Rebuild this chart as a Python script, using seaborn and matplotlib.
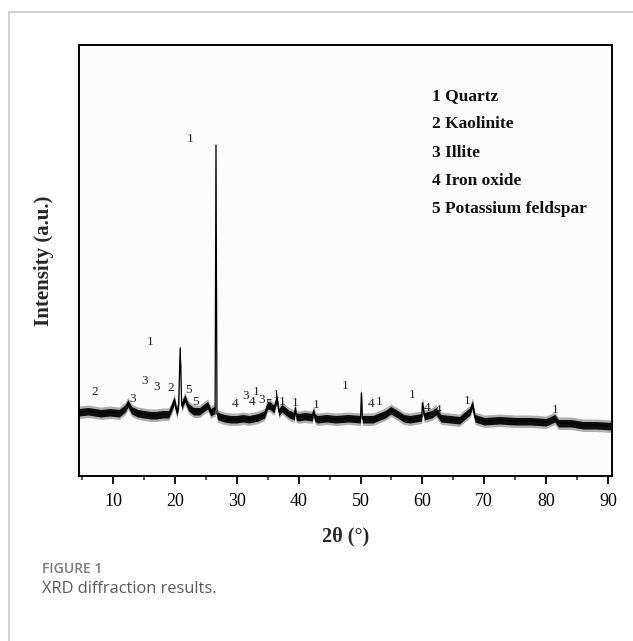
import matplotlib
matplotlib.use("Agg")
import matplotlib.pyplot as plt
from matplotlib.lines import Line2D
from matplotlib.ticker import MultipleLocator
import seaborn as sns
import pandas as pd

# ---- data ----
two_theta = [4.5, 6.0, 8.0, 9.5, 11.0, 12.0, 12.4, 13.0, 14.0, 15.0, 16.0, 17.0, 18.0,
             19.0, 19.5, 19.9, 20.3, 20.6,
             20.85, 21.1, 21.6, 22.2, 23.0, 24.0, 24.8, 25.3, 25.8, 26.3, 26.5,
             26.64, 26.8, 27.0, 28.0, 29.0, 30.0, 31.0, 32.0, 33.5, 34.5, 35.0, 35.5, 36.0,
             36.5, 36.8, 37.3, 38.5, 39.3, 39.45, 39.6, 40.0, 41.0, 42.2, 42.4, 42.6, 43.0,
             44.5, 46.0, 48.0, 50.0, 50.14, 50.3, 52.0, 54.0, 54.9, 56.0, 57.0, 58.0, 59.9,
             60.0, 60.3, 61.5, 62.2, 63.0, 64.5, 66.0, 67.7, 68.1, 68.5, 70.0, 72.5, 75.0,
             77.5, 80.0, 81.4, 82.0, 84.0, 86.0, 88.0, 90.65]
intensity = [64, 65, 63, 64, 63, 68, 73, 66, 63, 62, 61, 61, 62,
             62, 69, 76, 64, 71,
             128, 70, 78, 69, 65, 65, 69, 71, 64, 66, 66,
             331, 62, 60, 58, 57, 57, 58, 57, 59, 62, 71, 70, 67,
             78, 64, 68, 62, 60, 68, 60, 59, 60, 59, 65, 59, 57,
             58, 57, 58, 57, 83, 57, 57, 62, 66, 62, 58, 57, 59,
             73, 60, 62, 65, 58, 57, 56, 65, 72, 58, 55, 56, 55,
             55, 54, 58, 53, 53, 51, 51, 50]

phases = ["1 Quartz", "2 Kaolinite", "3 Illite", "4 Iron oxide", "5 Potassium feldspar"]

peak_label_text = ["2", "3", "3", "3", "1", "2", "5", "5", "1", "4", "3", "4", "1", "3",
                   "5", "1", "1", "1", "1", "1", "4", "1", "1", "4", "4", "1", "1"]
peak_label_x = [7.0, 13.1, 15.1, 17.0, 16.0, 19.4, 22.2, 23.3, 22.4, 29.8, 31.4, 32.4,
                33.2, 34.0, 35.1, 36.4, 37.3, 39.5, 42.9, 47.6, 51.7, 53.0, 58.3,
                60.7, 62.5, 67.2, 81.4]
peak_label_y = [84, 77, 95, 89, 134, 88, 86, 74, 337, 72, 80, 74, 84, 76, 72, 81, 74,
                73, 71, 90, 72, 74, 81, 68, 66, 75, 66]

x_ticks = [10, 20, 30, 40, 50, 60, 70, 80, 90]

# ---- style ----
sns.set_style("ticks")
plt.rcParams["font.family"] = ["Liberation Serif", "DejaVu Serif"]

W, H = 633, 641
fig = plt.figure(figsize=(W / 100, H / 100), dpi=100)
fig.patch.set_facecolor("white")
ax = fig.add_axes([79 / W, 1 - 476 / H, (612 - 79) / W, (476 - 45) / H])
ax.set_facecolor("#fcfcfc")

df = pd.DataFrame({"two_theta": two_theta, "intensity": intensity})
# noisy band: a soft outer halo and a dense core
ax.fill_between(df["two_theta"], df["intensity"] - 6.5, df["intensity"] + 6.0,
                color="black", linewidth=0, alpha=0.3)
ax.fill_between(df["two_theta"], df["intensity"] - 4.0, df["intensity"] + 3.5,
                color="black", linewidth=0, alpha=0.92)
sns.lineplot(data=df, x="two_theta", y="intensity", color="black", linewidth=0.9,
             estimator=None, sort=False, ax=ax)

for t, xv, yv in zip(peak_label_text, peak_label_x, peak_label_y):
    ax.text(xv, yv, t, ha="center", va="center", fontsize=9.5, color="#222222")

for i, p in enumerate(phases):
    ax.text(61.5, 380 - 28.3 * i, p, ha="left", va="center", fontsize=12.5,
            fontweight="bold", color="#111111")

ax.set_xlim(4.5, 90.65)
ax.set_ylim(0, 431)
ax.set_xticks(x_ticks)
ax.xaxis.set_minor_locator(MultipleLocator(5))
ax.set_yticks([])
ax.tick_params(axis="x", which="major", direction="out", length=6, width=1.3,
               labelsize=13, pad=6, colors="black")
ax.tick_params(axis="x", which="minor", direction="out", length=3, width=1.1)
for s in ax.spines.values():
    s.set_linewidth(1.4)
    s.set_color("black")
    s.set_visible(True)

ax.set_xlabel("2θ (°)", fontsize=14.5, fontweight="bold", labelpad=12)
ax.set_ylabel("Intensity (a.u.)", fontsize=15, fontweight="bold", labelpad=18)

# outer frame of the figure card
fig.add_artist(Line2D([9 / W, 9 / W], [0, 1 - 12 / H], transform=fig.transFigure,
                      color="#c8c8c8", linewidth=1.2))
fig.add_artist(Line2D([9 / W, 1], [1 - 12 / H, 1 - 12 / H], transform=fig.transFigure,
                      color="#c8c8c8", linewidth=1.2))

fig.text(42 / W, 1 - 569 / H, "FIGURE 1", fontsize=10, fontweight="semibold",
         color="#7a7a7a", family=["Open Sans", "DejaVu Sans"], va="center", ha="left")
fig.text(42 / W, 1 - 589 / H, "XRD diffraction results.", fontsize=11.8,
         color="#5a5a5a", family=["Open Sans", "DejaVu Sans"], va="center", ha="left")

fig.savefig("out.png", dpi=100, facecolor="white")
